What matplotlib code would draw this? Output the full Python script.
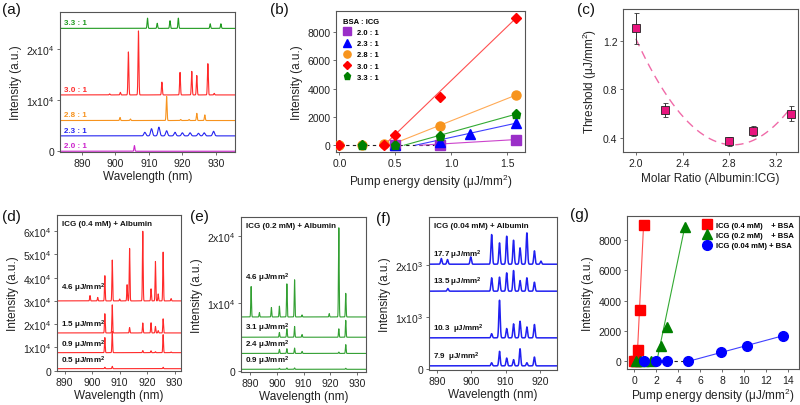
import numpy as np
import matplotlib
matplotlib.use('Agg')
import matplotlib.pyplot as plt
from matplotlib.transforms import blended_transform_factory

plt.rcParams['font.family'] = ['Liberation Sans', 'DejaVu Sans']
plt.rcParams['mathtext.default'] = 'regular'
plt.rcParams['axes.edgecolor'] = '#555555'
plt.rcParams['axes.linewidth'] = 0.8
plt.rcParams['xtick.major.size'] = 2.5
plt.rcParams['ytick.major.size'] = 2.5
plt.rcParams['xtick.major.width'] = 0.6
plt.rcParams['ytick.major.width'] = 0.6
plt.rcParams['xtick.color'] = '#555555'
plt.rcParams['ytick.color'] = '#555555'
plt.rcParams['xtick.labelcolor'] = '#222222'
plt.rcParams['ytick.labelcolor'] = '#222222'
plt.rcParams['xtick.labelsize'] = 7.5
plt.rcParams['ytick.labelsize'] = 7.5
plt.rcParams['xtick.major.pad'] = 1.5
plt.rcParams['ytick.major.pad'] = 1.5
plt.rcParams['axes.labelsize'] = 8.5
plt.rcParams['axes.labelcolor'] = '#222222'

UNIT = r'$\mu$J/mm$^2$'

# ---------------- (a) spectra vs BSA:ICG ratio ----------------
a_labels = ['2.0 : 1', '2.3 : 1', '2.8 : 1', '3.0 : 1', '3.3 : 1']
a_offsets = [0, 3000, 6000, 11000, 24000]
a_pos = [
    [905.7],
    [908.8, 910.8, 913.0, 915.3, 917.8, 920.0, 922.3, 924.8, 926.5, 929.3],
    [901.4, 904.5, 915.3, 919.5, 922.0, 924.3, 926.7],
    [898.3, 901.5, 903.9, 906.9, 913.9, 919.3, 922.8, 924.3, 927.6, 929.5],
    [909.6, 912.5, 916.3, 918.8, 928.3, 931.5],
]
a_amp = [
    [1100],
    [700, 1400, 1700, 1000, 700, 600, 600, 500, 600, 900],
    [600, 300, 4700, 200, 200, 1400, 1100],
    [200, 500, 8400, 12500, 2500, 4400, 4600, 3800, 6100, 300],
    [2000, 1000, 1500, 2000, 900, 900],
]
a_colors = ['#cc22cc', '#2525f0', '#f7931e', '#ff2a2a', '#1f9a1f']

# ---------------- (b) intensity vs pump, per ratio ----------------
b_labels = ['2.0 : 1', '2.3 : 1', '2.8 : 1', '3.0 : 1', '3.3 : 1']
b_x = [
    [0.5, 0.9, 1.58],
    [0.5, 0.9, 1.17, 1.58],
    [0.0, 0.2, 0.4, 0.9, 1.58],
    [0.0, 0.4, 0.5, 0.9, 1.58],
    [0.2, 0.5, 0.9, 1.58],
]
b_y = [
    [0, 0, 400],
    [0, 250, 800, 1560],
    [0, 0, 100, 1370, 3550],
    [0, 0, 730, 3400, 9000],
    [0, 0, 620, 2200],
]
b_fit_start = [0.72, 0.68, 0.45, 0.40, 0.58]
b_markers = ['s', '^', 'o', 'D', 'p']
b_colors = ['#9a2fc8', '#0000ff', '#f7941d', '#ff0000', '#008000']
b_line_colors = ['#cc44cc', '#4040ff', '#ffaa55', '#ff5050', '#33aa33']

# ---------------- (c) threshold vs molar ratio ----------------
c_ratio = [2.0, 2.25, 2.8, 3.0, 3.33]
c_thresh = [1.30, 0.63, 0.372, 0.46, 0.60]
c_err = [0.13, 0.06, 0.035, 0.04, 0.06]

# ---------------- (d) ICG 0.4 mM ----------------
d_labels = ['0.5', '0.9', '1.5', '4.6']
d_offsets = [800, 7700, 16200, 30000]
d_pos = [
    [904.6, 907.3, 925.8],
    [904.6, 907.3, 918.4, 921.4, 923.0, 925.8, 928.7],
    [904.6, 907.3, 913.6, 918.4, 921.4, 923.0, 924.0, 925.8],
    [899.2, 902.0, 904.6, 907.3, 910.0, 912.7, 913.6, 918.4, 921.4, 923.0,
     924.0, 925.8, 928.7],
]
d_amp = [
    [600, 1000, 600],
    [6500, 9200, 900, 800, 400, 7800, 300],
    [8300, 12100, 2300, 4300, 4400, 2800, 1000, 6100],
    [2300, 1500, 10900, 17600, 800, 7000, 22600, 30000, 5200, 17000,
     3000, 21000, 1000],
]

# ---------------- (e) ICG 0.2 mM ----------------
e_labels = ['0.9', '2.4', '3.1', '4.6']
e_offsets = [250, 2600, 5000, 8000]
e_pos = [
    [900.9, 903.7, 906.6, 925.8],
    [900.9, 903.7, 906.6, 909.4, 923.2, 925.8],
    [900.9, 903.7, 906.6, 909.4, 923.2, 925.8],
    [890.3, 893.4, 897.9, 900.9, 903.7, 906.6, 909.4, 919.6, 923.2, 925.8],
]
e_amp = [
    [150, 200, 200, 150],
    [600, 700, 800, 300, 200, 1300],
    [700, 1250, 1600, 400, 1250, 2500],
    [4500, 650, 1400, 1600, 4900, 5500, 300, 500, 13200, 3500],
]

# ---------------- (f) ICG 0.04 mM ----------------
f_labels = ['7.9 ', '10.3 ', '13.5', '17.7']
f_offsets = [60, 600, 1500, 2020]
f_pos = [
    [905.9, 908.2, 910.3, 912.3, 914.2, 916.2, 918.4],
    [905.9, 908.2, 910.3, 912.3, 914.2, 916.2, 918.4],
    [893.1, 905.9, 908.2, 910.3, 912.3, 914.2, 916.2, 918.4],
    [891.2, 893.0, 899.8, 905.9, 908.2, 910.3, 912.3, 914.2, 916.2, 918.4, 920.3],
]
f_amp = [
    [60, 280, 150, 120, 330, 60, 170],
    [80, 725, 180, 270, 320, 210, 257],
    [50, 257, 270, 353, 398, 205, 257, 173],
    [110, 90, 140, 571, 411, 540, 462, 315, 604, 257, 60],
]

# ---------------- (g) intensity vs pump, per ICG conc ----------------
g_labels = ['ICG (0.4 mM)    + BSA', 'ICG (0.2 mM)    + BSA', 'ICG (0.04 mM) + BSA']
g_x = [
    [0.0, 0.15, 0.33, 0.48, 0.85],
    [0.15, 0.5, 0.9, 1.5, 2.4, 3.0, 4.6],
    [0.9, 2.0, 3.0, 4.9, 7.9, 10.3, 13.5],
]
g_y = [
    [0, 0, 760, 3400, 9000],
    [0, 0, 0, 0, 1000, 2250, 8850],
    [0, 0, 0, 0, 590, 1020, 1680],
]
g_fit_start = [0.25, 2.05, 4.9]
g_markers = ['s', '^', 'o']
g_colors = ['#ff0000', '#008000', '#0000ff']
g_line_colors = ['#ff5050', '#33aa33', '#4040ff']

W, H = 800, 406
fig = plt.figure(figsize=(W / 100, H / 100), dpi=100)


def box(l, t, r, b):
    return fig.add_axes([l / W, 1 - b / H, (r - l) / W, (b - t) / H])


def spectrum(wl, pos, amp, width):
    y = np.zeros_like(wl)
    for p, h in zip(pos, amp):
        y += h * np.exp(-0.5 * ((wl - p) / width) ** 2)
    return y


def sci(v, pos, exp):
    if v == 0:
        return '0'
    return r'%dx10$^{%d}$' % (round(v / 10 ** exp), exp)


wl = np.linspace(880, 940, 8000)
bold = dict(fontweight='bold', fontsize=5.8)

# (a)
ax = box(60, 13, 235, 153)
trans = blended_transform_factory(ax.transAxes, ax.transData)
for i in range(5):
    w = 0.28 if i == 1 else 0.13
    ax.plot(wl, a_offsets[i] + spectrum(wl, a_pos[i], a_amp[i], w),
            color=a_colors[i], lw=0.8)
    ax.annotate(a_labels[i], (0.02, a_offsets[i]), xycoords=trans,
                xytext=(0, 1.5), textcoords='offset points', va='bottom',
                color=a_colors[i], **bold)
ax.set_xlim(883.5, 935.7)
ax.set_ylim(-150, 27200)
ax.set_xticks([890, 900, 910, 920, 930])
ax.set_yticks([0, 10000, 20000])
ax.yaxis.set_major_formatter(lambda v, p: sci(v, p, 4))
ax.set_xlabel('Wavelength (nm)', labelpad=2)
ax.set_ylabel('Intensity (a.u.)', labelpad=3)

# (b)
ax = box(336, 12, 525, 153)
ax.plot([0, 0.85], [0, 0], ls=(0, (3, 3)), color='#222222', lw=0.8, zorder=1)
for i in range(5):
    ax.plot([b_fit_start[i], b_x[i][-1]], [0, b_y[i][-1]],
            color=b_line_colors[i], lw=0.8, zorder=2)
for i in [0, 1, 2, 4, 3]:
    ax.plot(b_x[i], b_y[i], ls='none', marker=b_markers[i], color=b_colors[i],
            ms=6.5 if b_markers[i] != 'D' else 5.5, zorder=3, label=b_labels[i])
h, l = ax.get_legend_handles_labels()
order = [l.index(s) for s in b_labels]
ax.legend([h[k] for k in order], [l[k] for k in order], title='BSA : ICG',
          loc='upper left', frameon=False, prop=dict(weight='bold', size=5.5),
          title_fontproperties=dict(weight='bold', size=5.5),
          labelspacing=0.5, handletextpad=0.6, handlelength=1.2,
          borderaxespad=0.5, alignment='left', markerscale=0.8)
ax.set_xlim(-0.03, 1.66)
ax.set_ylim(-480, 9500)
ax.set_xticks([0, 0.5, 1.0, 1.5])
ax.set_yticks([0, 2000, 4000, 6000, 8000])
ax.xaxis.set_major_formatter('{x:.1f}')
ax.set_xlabel('Pump energy density (' + UNIT + ')', labelpad=3)
ax.set_ylabel('Intensity (a.u.)', labelpad=3)

# (c)
ax = box(623, 10, 798, 153)
coef = np.polyfit(c_ratio, c_thresh, 2)
xs = np.linspace(c_ratio[0], c_ratio[-1], 200)
ax.plot(xs, np.polyval(coef, xs), ls=(0, (6, 4)), color='#f06aa8', lw=1.0, zorder=1)
ax.errorbar(c_ratio, c_thresh, yerr=c_err, ls='none', marker='s', ms=5.5,
            mfc='#e8157e', mec='#222222', mew=0.6, ecolor='#333333',
            elinewidth=0.7, capsize=1.8, capthick=0.7, zorder=3)
ax.set_xlim(1.89, 3.39)
ax.set_ylim(0.285, 1.46)
ax.set_xticks([2.0, 2.4, 2.8, 3.2])
ax.set_yticks([0.4, 0.8, 1.2])
ax.xaxis.set_major_formatter('{x:.1f}')
ax.yaxis.set_major_formatter('{x:.1f}')
ax.set_xlabel('Molar Ratio (Albumin:ICG)', labelpad=3)
ax.set_ylabel('Threshold (' + UNIT + ')', labelpad=3)


def stacked(ax, pos, amp, offsets, labels, color, width, lw, pads, title):
    trans = blended_transform_factory(ax.transAxes, ax.transData)
    for i in range(len(offsets)):
        ax.plot(wl, offsets[i] + spectrum(wl, pos[i], amp[i], width),
                color=color, lw=lw)
        ax.annotate(labels[i] + ' ' + UNIT, (0.03, offsets[i]), xycoords=trans,
                    xytext=(0, pads[i]), textcoords='offset points',
                    va='bottom', color='#111111', **bold)
    ax.text(0.04, 0.965, title, transform=ax.transAxes, va='top',
            color='#111111', **bold)
    ax.set_xlabel('Wavelength (nm)', labelpad=2)


# (d)
ax = box(57, 216, 181, 372)
stacked(ax, d_pos, d_amp, d_offsets, d_labels, '#ff2a2a', 0.13, 0.8,
        [1.5, 1.5, 1.5, 5], 'ICG (0.4 mM) + Albumin')
ax.set_xlim(887.2, 932.3)
ax.set_ylim(-200, 67000)
ax.set_xticks([890, 900, 910, 920, 930])
ax.set_yticks(np.arange(0, 60001, 10000))
ax.yaxis.set_major_formatter(lambda v, p: sci(v, p, 4))
ax.set_ylabel('Intensity (a.u.)', labelpad=3)

# (e)
ax = box(241, 218, 366, 373)
stacked(ax, e_pos, e_amp, e_offsets, e_labels, '#33a033', 0.13, 0.8,
        [2, 2, 2, 24], 'ICG (0.2 mM) + Albumin')
ax.set_xlim(886.5, 933.4)
ax.set_ylim(-150, 22800)
ax.set_xticks([890, 900, 910, 920, 930])
ax.set_yticks([0, 10000, 20000])
ax.yaxis.set_major_formatter(lambda v, p: sci(v, p, 4))
ax.set_ylabel('Intensity (a.u.)', labelpad=3)

# (f)
ax = box(429, 218, 557, 371)
stacked(ax, f_pos, f_amp, f_offsets, f_labels, '#2020f0', 0.2, 1.1,
        [2, 2, 2, 2], 'ICG (0.04 mM) + Albumin')
ax.set_xlim(887.6, 925)
ax.set_ylim(-20, 2930)
ax.set_xticks([890, 900, 910, 920])
ax.set_yticks([0, 1000, 2000])
ax.yaxis.set_major_formatter(lambda v, p: sci(v, p, 3))
ax.set_ylabel('Intensity (a.u.)', labelpad=3)

# (g)
ax = box(627, 217, 799, 370)
ax.plot([0, 4.9], [0, 0], ls=(0, (3, 3)), color='#222222', lw=0.8, zorder=1)
for i in range(3):
    ax.plot([g_fit_start[i], g_x[i][-1]], [0, g_y[i][-1]],
            color=g_line_colors[i], lw=0.8, zorder=2)
for i in range(3):
    ax.plot(g_x[i], g_y[i], ls='none', marker=g_markers[i], color=g_colors[i],
            ms=7, zorder=3, label=g_labels[i])
ax.legend(loc='upper right', frameon=False, prop=dict(weight='bold', size=5.5),
          labelspacing=0.4, handletextpad=0.5, handlelength=1.2,
          borderaxespad=0.3)
ax.set_xlim(-0.66, 15.0)
ax.set_ylim(-500, 9570)
ax.set_xticks(np.arange(0, 15, 2))
ax.set_yticks([0, 2000, 4000, 6000, 8000])
ax.set_xlabel('Pump energy density (' + UNIT + ')', labelpad=1)
ax.set_ylabel('Intensity (a.u.)', labelpad=3)

# panel letters
for s, x, y in [('(a)', 2, 3), ('(b)', 270, 3), ('(c)', 577, 3),
                ('(d)', 2, 210), ('(e)', 190, 210), ('(f)', 376, 212), ('(g)', 570, 208)]:
    fig.text(x / W, 1 - y / H, s, fontsize=11, va='top', color='#111111')

fig.savefig('out.png', dpi=100)
